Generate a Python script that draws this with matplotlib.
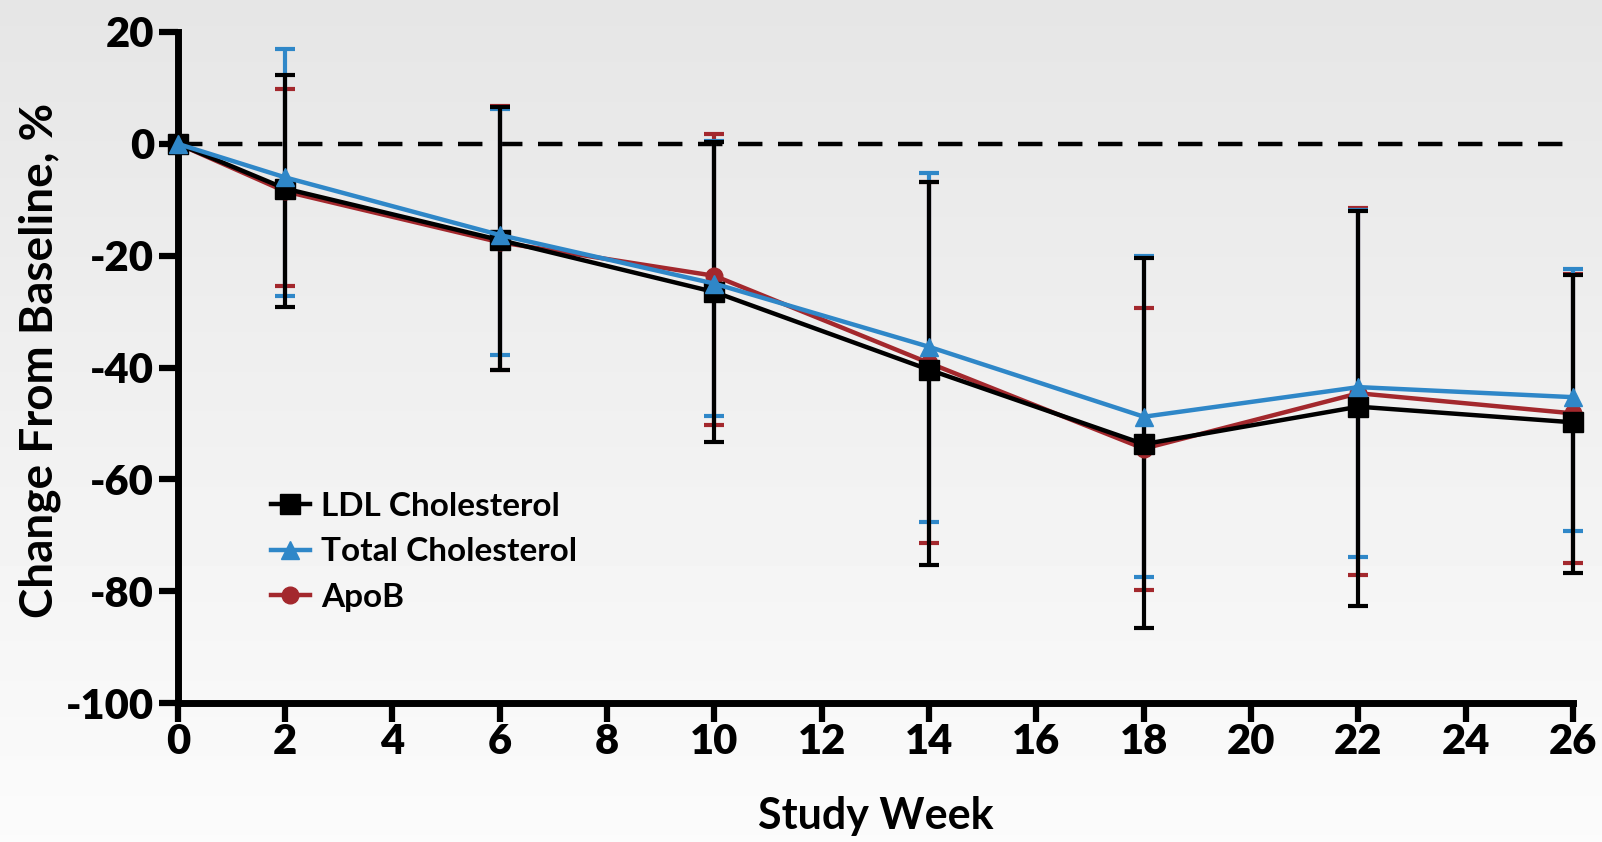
import numpy as np
import matplotlib.pyplot as plt

# data
weeks = [0, 2, 6, 10, 14, 18, 22, 26]

ldl = [0, -8.0, -17.2, -26.5, -40.4, -53.7, -47.0, -49.8]
ldl_hi = [0, 12.3, 6.6, 0.3, -6.8, -20.5, -12.0, -23.4]
ldl_lo = [0, -29.2, -40.4, -53.3, -75.3, -86.5, -82.6, -76.8]

total = [0, -6.0, -16.3, -25.0, -36.3, -48.8, -43.5, -45.3]
total_hi = [0, 16.9, 6.3, 0.5, -5.3, -20.0, -11.8, -22.4]
total_lo = [0, -27.2, -37.8, -48.6, -67.7, -77.4, -73.9, -69.2]

apob = [0, -8.5, -17.6, -23.6, -39.2, -54.5, -44.6, -48.2]
apob_hi = [0, 9.8, 6.8, 1.7, -6.8, -29.3, -11.5, -23.3]
apob_lo = [0, -25.5, -40.4, -50.2, -71.3, -79.7, -77.1, -75.0]

blue = '#2f87c8'
red = '#a3282d'

plt.rcParams['font.family'] = ['Lato', 'DejaVu Sans']
plt.rcParams['axes.unicode_minus'] = False

fig = plt.figure(figsize=(16.02, 8.42), dpi=100)

# grey-to-white background gradient
bg = fig.add_axes([0, 0, 1, 1], zorder=-10)
grad = np.linspace(0.90, 0.985, 256).reshape(-1, 1)
bg.imshow(grad, aspect='auto', cmap='gray', vmin=0, vmax=1, extent=[0, 1, 1, 0])
bg.axis('off')

ax = fig.add_axes([0.111, 0.165, 0.871, 0.797])
ax.set_facecolor('none')


def err(mean, hi, lo):
    m = np.array(mean)
    return [m - np.array(lo), np.array(hi) - m]


eb = dict(fmt='none', elinewidth=3, capsize=7, capthick=3, clip_on=False)
ax.errorbar(weeks[1:], apob[1:], yerr=[e[1:] for e in err(apob, apob_hi, apob_lo)],
            ecolor=red, zorder=2, **eb)
ax.errorbar(weeks[1:], total[1:], yerr=[e[1:] for e in err(total, total_hi, total_lo)],
            ecolor=blue, zorder=2, **eb)
ax.errorbar(weeks[1:], ldl[1:], yerr=[e[1:] for e in err(ldl, ldl_hi, ldl_lo)],
            ecolor='black', zorder=3, **eb)

ax.axhline(0, color='black', lw=3.2, ls=(0, (5.5, 3.5)), zorder=1)

ax.plot(weeks, ldl, color='black', lw=3.2, marker='s', ms=15, label='LDL Cholesterol',
        zorder=5, clip_on=False)
ax.plot(weeks, total, color=blue, lw=3.2, marker='^', ms=13, label='Total Cholesterol',
        zorder=6, clip_on=False)
ax.plot(weeks, apob, color=red, lw=3.2, marker='o', ms=12, label='ApoB',
        zorder=4, clip_on=False)

ax.set_xlim(0, 26)
ax.set_ylim(-100, 20)
ax.set_xticks(range(0, 27, 2))
ax.set_yticks(range(-100, 21, 20))

for s in ['top', 'right']:
    ax.spines[s].set_visible(False)
for s in ['left', 'bottom']:
    ax.spines[s].set_linewidth(5)
ax.tick_params(direction='out', length=14, width=4.5, labelsize=30, pad=3)
ax.tick_params(axis='x', pad=0)
for lab in ax.get_xticklabels() + ax.get_yticklabels():
    lab.set_fontweight('heavy')

ax.set_xlabel('Study Week', fontsize=31, fontweight='bold', va='center')
ax.xaxis.set_label_coords(0.5, -0.168)
ax.set_ylabel('Change From Baseline, %', fontsize=33, fontweight='bold', va='center')
ax.yaxis.set_label_coords(-0.099, 0.51)

leg = ax.legend(loc='upper left', bbox_to_anchor=(0.055, 0.34), frameon=False,
                fontsize=24, handlelength=1.15, handletextpad=0.35, labelspacing=0.5,
                borderpad=0)
for t in leg.get_texts():
    t.set_fontweight('bold')

fig.savefig('out.png', dpi=100)
